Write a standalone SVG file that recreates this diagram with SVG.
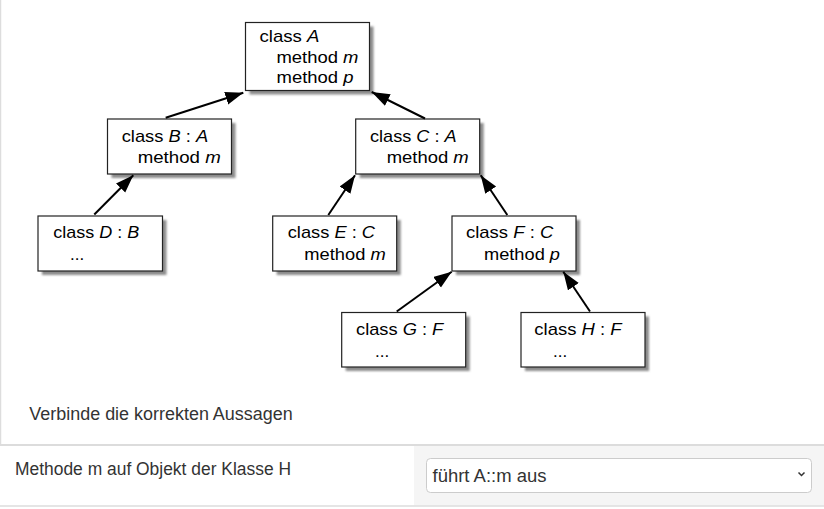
<svg xmlns="http://www.w3.org/2000/svg" width="824" height="509" viewBox="0 0 824 509">
<defs>
<style>
.box{fill:#fff;stroke:#222;stroke-width:1.2}
.sh{fill:#8c8c8c;filter:url(#blur)}
.t{font-family:"Liberation Sans",Arial,sans-serif;font-size:17px;fill:#000}
.i{font-style:italic}
.conn line{stroke:#000;stroke-width:2;marker-end:url(#ah)}
.ui{font-family:"Liberation Sans",Arial,sans-serif;font-size:17.5px;fill:#333}
</style>
<filter id="blur" x="-10%" y="-10%" width="120%" height="130%"><feGaussianBlur stdDeviation="0.9"/></filter>
<marker id="ah" markerUnits="userSpaceOnUse" markerWidth="20" markerHeight="14" refX="18" refY="6.5" orient="auto"><path d="M0,0 L18,6.5 L0,13 z" fill="#000"/></marker>
</defs>
<rect width="824" height="509" fill="#fff"/>
<line x1="0.5" y1="0" x2="0.5" y2="445" stroke="#ddd" stroke-width="1.5"/>

<g id="A">
<rect class="sh" x="249.5" y="26.5" width="124" height="68"/>
<rect class="box" x="245.5" y="22.5" width="124" height="68"/>
<text class="t" x="259.5" y="42" textLength="60" lengthAdjust="spacingAndGlyphs">class <tspan class="i">A</tspan></text>
<text class="t" x="276.5" y="62.5" textLength="82" lengthAdjust="spacingAndGlyphs">method <tspan class="i">m</tspan></text>
<text class="t" x="276.5" y="83" textLength="77" lengthAdjust="spacingAndGlyphs">method <tspan class="i">p</tspan></text>
</g>
<g id="B">
<rect class="sh" x="111.5" y="123" width="124" height="55"/>
<rect class="box" x="107.5" y="119" width="124" height="55"/>
<text class="t" x="121.7" y="141.7" textLength="86.6" lengthAdjust="spacingAndGlyphs">class <tspan class="i">B</tspan> : <tspan class="i">A</tspan></text>
<text class="t" x="137.7" y="163.3" textLength="83" lengthAdjust="spacingAndGlyphs">method <tspan class="i">m</tspan></text>
</g>
<g id="C">
<rect class="sh" x="359.7" y="123" width="124" height="55"/>
<rect class="box" x="355.7" y="119" width="124" height="55"/>
<text class="t" x="370" y="141.7" textLength="86.7" lengthAdjust="spacingAndGlyphs">class <tspan class="i">C</tspan> : <tspan class="i">A</tspan></text>
<text class="t" x="386.7" y="163.3" textLength="82" lengthAdjust="spacingAndGlyphs">method <tspan class="i">m</tspan></text>
</g>
<g id="D">
<rect class="sh" x="42" y="220" width="124.5" height="55"/>
<rect class="box" x="38" y="216" width="124.5" height="55"/>
<text class="t" x="53.3" y="238.3" textLength="86" lengthAdjust="spacingAndGlyphs">class <tspan class="i">D</tspan> : <tspan class="i">B</tspan></text>
<text class="t" x="70" y="260">...</text>
</g>
<g id="E">
<rect class="sh" x="276.7" y="220" width="124" height="55"/>
<rect class="box" x="272.7" y="216" width="124" height="55"/>
<text class="t" x="287.7" y="238.3" textLength="87.3" lengthAdjust="spacingAndGlyphs">class <tspan class="i">E</tspan> : <tspan class="i">C</tspan></text>
<text class="t" x="304.3" y="260" textLength="81.4" lengthAdjust="spacingAndGlyphs">method <tspan class="i">m</tspan></text>
</g>
<g id="F">
<rect class="sh" x="456" y="220" width="124" height="55"/>
<rect class="box" x="452" y="216" width="124" height="55"/>
<text class="t" x="466" y="238" textLength="87.3" lengthAdjust="spacingAndGlyphs">class <tspan class="i">F</tspan> : <tspan class="i">C</tspan></text>
<text class="t" x="484" y="260" textLength="76" lengthAdjust="spacingAndGlyphs">method <tspan class="i">p</tspan></text>
</g>
<g id="G">
<rect class="sh" x="345.7" y="316.5" width="124" height="54.5"/>
<rect class="box" x="341.7" y="312.5" width="124" height="54.5"/>
<text class="t" x="356" y="335" textLength="87.3" lengthAdjust="spacingAndGlyphs">class <tspan class="i">G</tspan> : <tspan class="i">F</tspan></text>
<text class="t" x="375" y="357">...</text>
</g>
<g id="H">
<rect class="sh" x="525" y="316.5" width="124" height="54.5"/>
<rect class="box" x="521" y="312.5" width="124" height="54.5"/>
<text class="t" x="534.3" y="335" textLength="87.3" lengthAdjust="spacingAndGlyphs">class <tspan class="i">H</tspan> : <tspan class="i">F</tspan></text>
<text class="t" x="553" y="357">...</text>
</g>

<g id="connectors" class="conn">
<line x1="165.7" y1="117.7" x2="243.3" y2="92.7"/>
<line x1="425" y1="118.5" x2="371.7" y2="92"/>
<line x1="94.3" y1="214.5" x2="133.3" y2="175.2"/>
<line x1="328.3" y1="215" x2="355" y2="175.2"/>
<line x1="507.3" y1="215" x2="480.7" y2="175.2"/>
<line x1="396.7" y1="311.5" x2="451.7" y2="271.8"/>
<line x1="590" y1="311.5" x2="563.3" y2="271.8"/>
</g>

<g id="form">
<text class="ui" x="29.3" y="420" textLength="263.4" lengthAdjust="spacingAndGlyphs">Verbinde die korrekten Aussagen</text>
<rect x="414" y="446" width="410" height="59.5" fill="#f5f5f5"/>
<line x1="0" y1="445" x2="824" y2="445" stroke="#dcdcdc" stroke-width="2"/>
<line x1="0" y1="506" x2="824" y2="506" stroke="#dcdcdc" stroke-width="1.5"/>
<text class="ui" x="15" y="475" textLength="276" lengthAdjust="spacingAndGlyphs">Methode m auf Objekt der Klasse H</text>
<rect x="426.5" y="458.5" width="385" height="34" rx="4" ry="4" fill="#fff" stroke="#ccc" stroke-width="1"/>
<text class="ui" x="432.5" y="481.5" textLength="114" lengthAdjust="spacingAndGlyphs">führt A::m aus</text>
<polyline points="798.5,472.5 801.5,475.5 804.5,472.5" fill="none" stroke="#333" stroke-width="1.5"/>
</g>
</svg>
